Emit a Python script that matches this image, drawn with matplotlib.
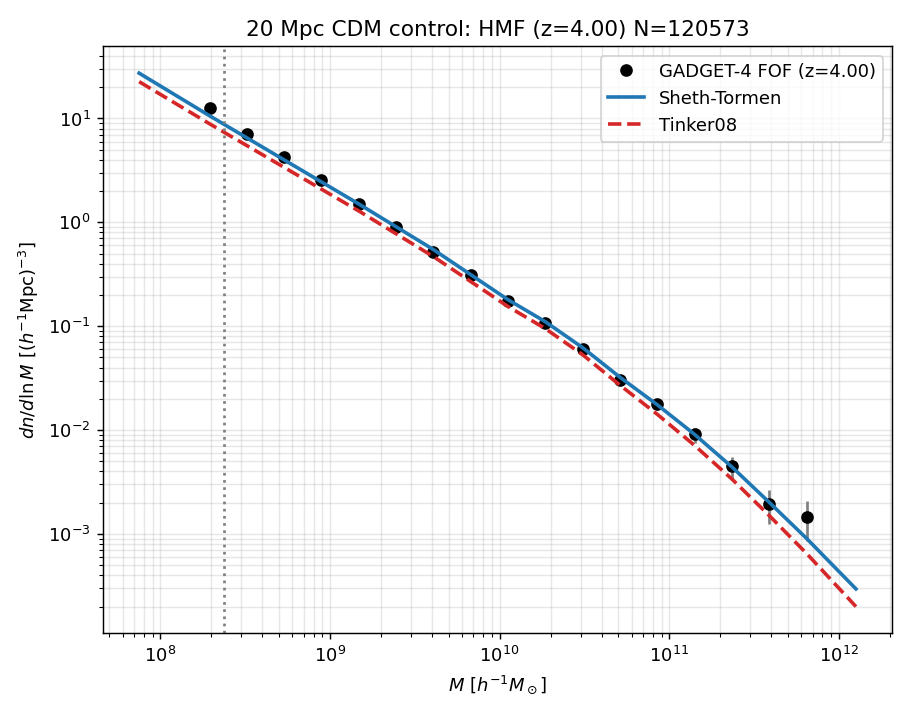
import matplotlib.pyplot as plt
import numpy as np


# FOF halo mass function, z=4 snapshot (bin centres)
fof_mass = [1.95e8, 3.24e8, 5.37e8, 8.91e8, 1.48e9, 2.45e9, 4.07e9, 6.76e9, 1.12e10,
            1.86e10, 3.09e10, 5.13e10, 8.51e10, 1.41e11, 2.34e11, 3.89e11, 6.46e11]
fof_dndlnm = [12.57, 7.10, 4.26, 2.56, 1.50, 0.907, 0.517, 0.308, 0.173,
              0.107, 0.0604, 0.0301, 0.0177, 0.00909, 0.00447, 0.00196, 0.00147]
fof_err = [0.0559, 0.0420, 0.0326, 0.0252, 0.0193, 0.01503, 0.01135, 0.00876, 0.00656,
           0.00516, 0.00388, 0.00274, 0.00210, 0.00150, 0.00106, 0.000699, 0.000605]

# analytic fits
model_mass = [7.50e7, 1.95e8, 5.37e8, 1.48e9, 4.07e9, 1.12e10, 1.86e10, 3.09e10,
              5.13e10, 8.51e10, 1.41e11, 2.34e11, 3.89e11, 6.46e11, 1.26e12]
sheth_tormen = [27.3, 10.62, 3.99, 1.501, 0.547, 0.1801, 0.1105, 0.0621,
                0.0322, 0.0175, 0.00909, 0.00442, 0.00201, 9.03e-4, 2.96e-4]
tinker08 = [22.6, 8.89, 3.38, 1.285, 0.468, 0.1548, 0.0948, 0.0531,
            0.0270, 0.01417, 0.00712, 0.00338, 0.00150, 6.47e-4, 2.00e-4]

m_min_resolved = 2.38e8
n_halos = 120573
redshift = 4.0


fig, ax = plt.subplots(figsize=(7, 5.5), dpi=130)

ax.errorbar(fof_mass, fof_dndlnm, yerr=fof_err, fmt="none", ecolor="gray", elinewidth=1.5)
ax.plot(fof_mass, fof_dndlnm, "o", color="k", label=f"GADGET-4 FOF (z={redshift:.2f})")
ax.plot(model_mass, sheth_tormen, "-", color="C0", lw=2, label="Sheth-Tormen")
ax.plot(model_mass, tinker08, "--", color="C3", lw=2, label="Tinker08")
ax.axvline(m_min_resolved, color="gray", ls=":", lw=1.5)

ax.set_xscale("log")
ax.set_yscale("log")
ax.set_xlabel(r"$M\ [h^{-1}M_\odot]$")
ax.set_ylabel(r"$dn/d\ln M\ [(h^{-1}{\rm Mpc})^{-3}]$")
ax.set_title(f"20 Mpc CDM control: HMF (z={redshift:.2f}) N={n_halos}")
ax.grid(True, which="both", alpha=0.3)
ax.legend(loc="upper right")

fig.subplots_adjust(left=0.1135, right=0.98, top=0.935, bottom=0.1143)
plt.savefig("out.png")
